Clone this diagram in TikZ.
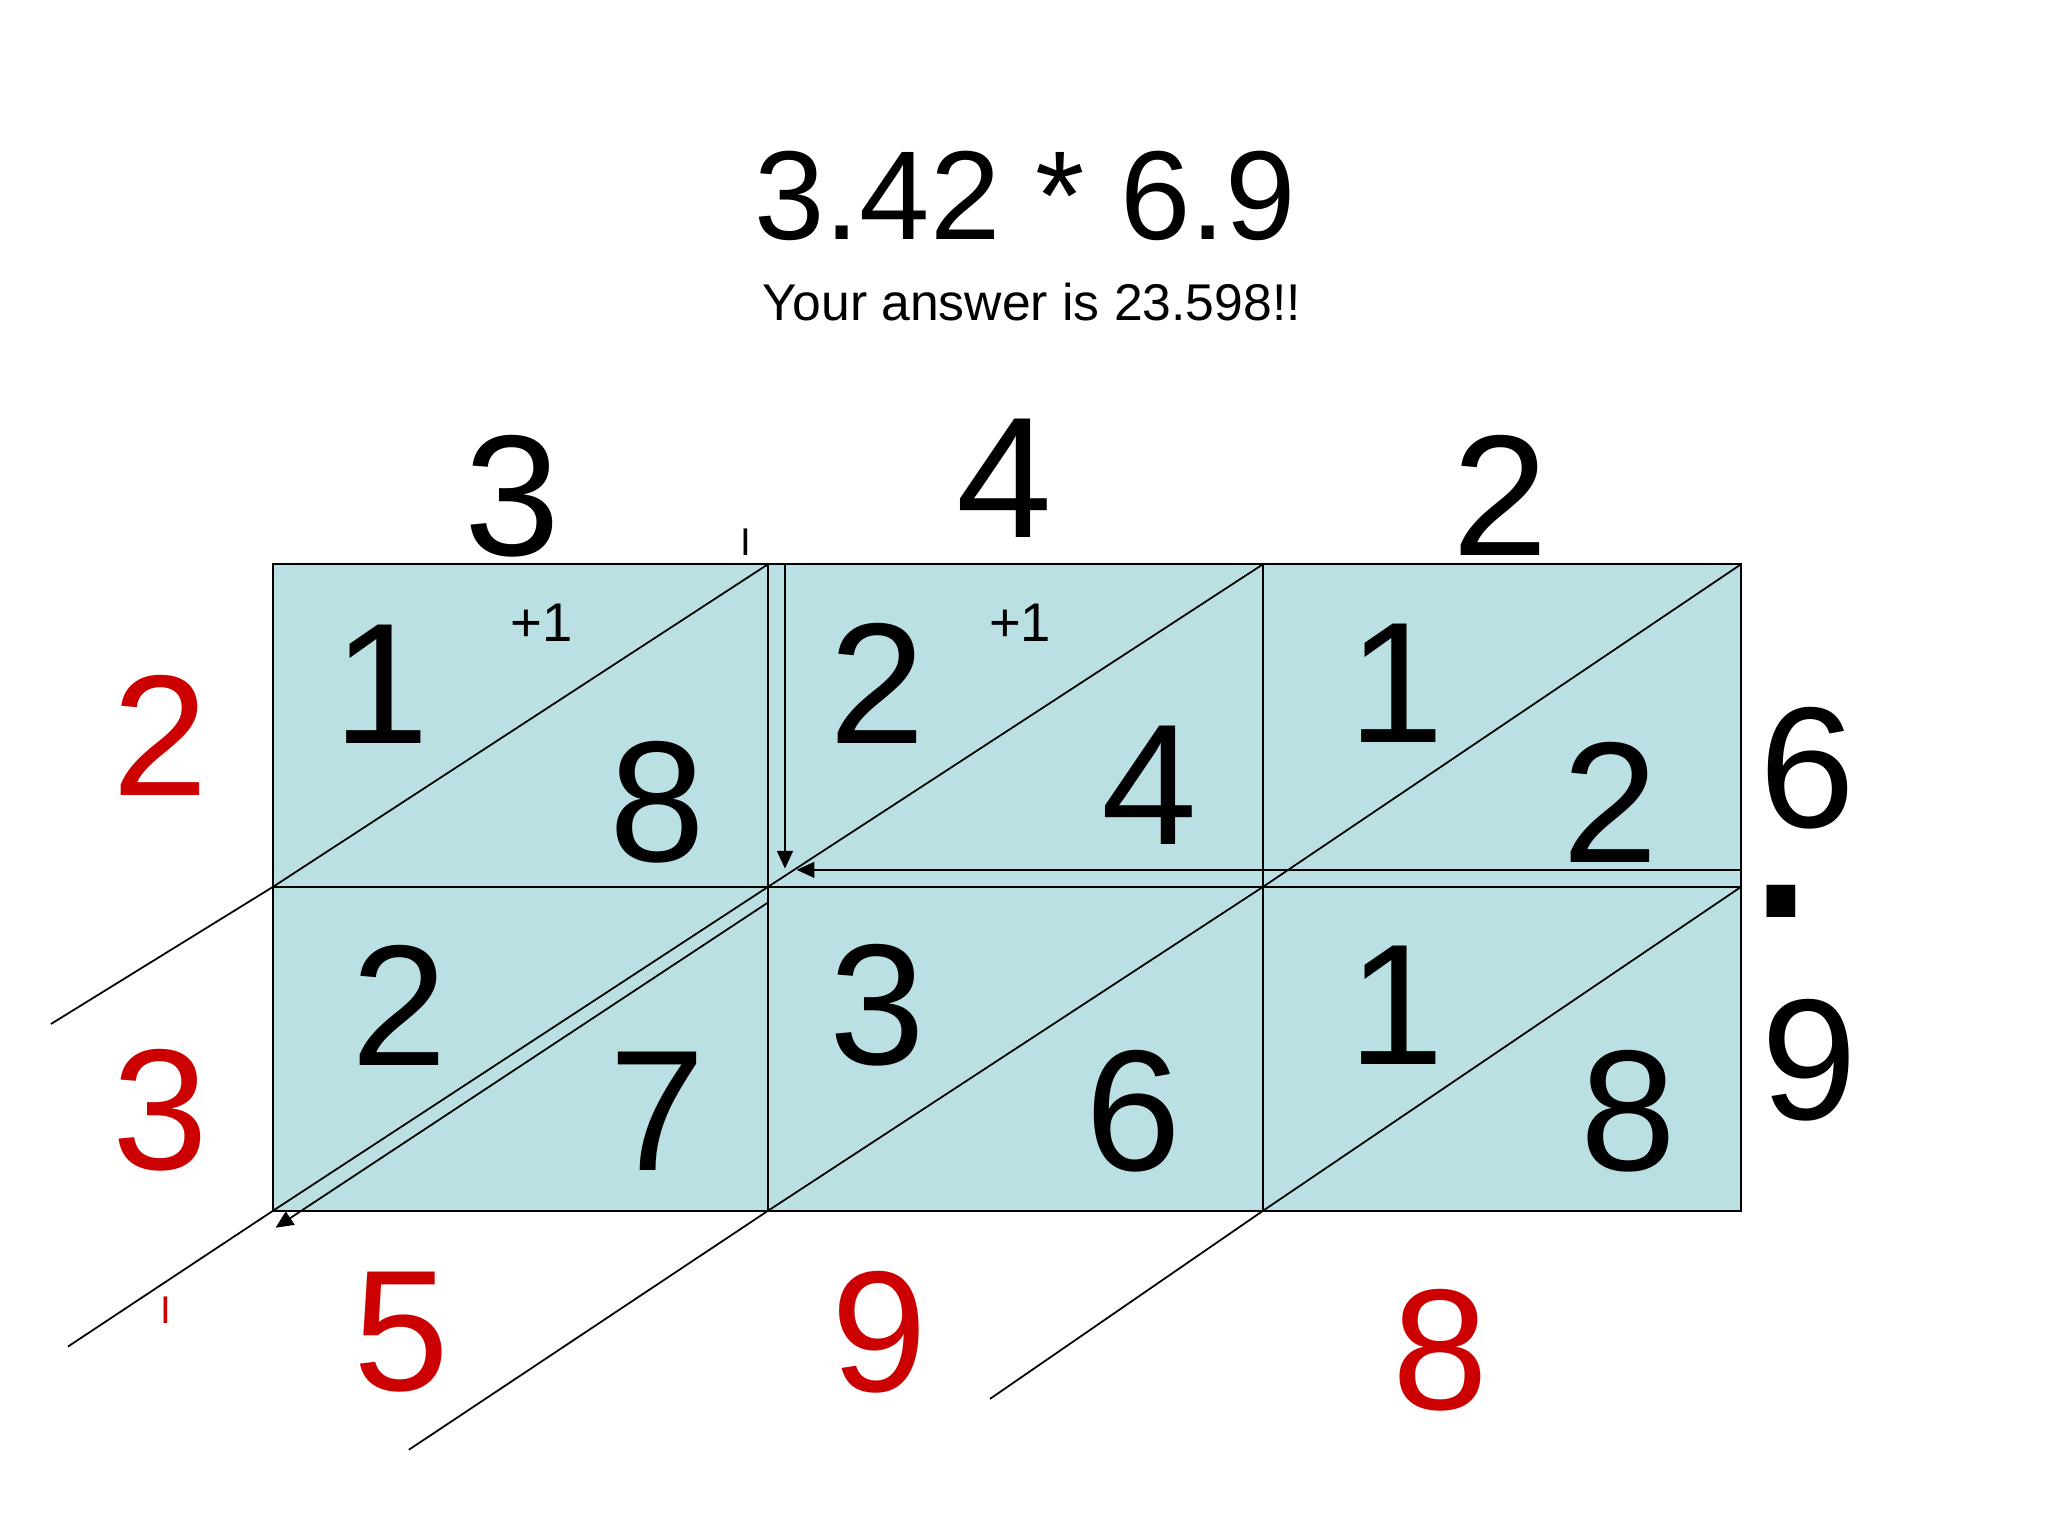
\documentclass[tikz,border=0pt]{standalone}
\usepackage{fontspec}
\setmainfont{Liberation Sans}
\usetikzlibrary{arrows.meta}
\definecolor{cellblue}{RGB}{187,224,227}
\definecolor{ansred}{RGB}{204,0,0}
\tikzset{
  big/.style={font=\fontsize{49}{49}\selectfont, inner sep=0pt},
  ans/.style={big, text=ansred},
  carry/.style={font=\fontsize{15.5}{15.5}\selectfont, inner sep=0pt},
  tickmark/.style={font=\fontsize{11}{11}\selectfont, inner sep=0pt},
  lattice/.style={line width=0.5pt},
  move/.style={line width=0.5pt, -{Triangle[length=5pt,width=4.5pt]}}
}
\begin{document}
\begin{tikzpicture}[x=0.013061cm, y=-0.013061cm]
  \useasboundingbox (0,0) rectangle (1568,1176);
  % grid corners
  \coordinate (p00) at (209,432);
  \coordinate (p01) at (588,432);
  \coordinate (p02) at (967,432);
  \coordinate (p03) at (1333,432);
  \coordinate (p10) at (209,679);
  \coordinate (p11) at (588,679);
  \coordinate (p12) at (967,679);
  \coordinate (p13) at (1333,679);
  \coordinate (p20) at (209,927);
  \coordinate (p21) at (588,927);
  \coordinate (p22) at (967,927);
  \coordinate (p23) at (1333,927);
  % free ends of the diagonals
  \coordinate (e1) at (39,784);
  \coordinate (e2) at (52,1031);
  \coordinate (e3) at (313,1110);
  \coordinate (e4) at (758,1071);
  % arrow ends
  \coordinate (v0) at (601,432);
  \coordinate (v1) at (601,665);
  \coordinate (h0) at (1333,666);
  \coordinate (h1) at (610,666);
  \coordinate (d0) at (588,691);
  \coordinate (d1) at (211,940);

  \fill[cellblue] (p00) rectangle (p23);
  \begin{scope}[lattice]
    \draw (p00) rectangle (p23);
    \draw (p10) to (p13);
    \draw (p01) to (p21);
    \draw (p02) to (p22);
    \draw (p01) to (p10) to (e1);
    \draw (p02) to (p11) to (p20) to (e2);
    \draw (p03) to (p12) to (p21) to (e3);
    \draw (p13) to (p22) to (e4);
  \end{scope}
  \begin{scope}[move]
    \draw (v0) to (v1);
    \draw (h0) to (h1);
    \draw (d0) to (d1);
  \end{scope}

  \node[font=\fontsize{36}{36}\selectfont, inner sep=0pt] (title) at (785,150) {3.42 * 6.9};
  \node[font=\fontsize{14.7}{14.7}\selectfont, inner sep=0pt] (answer) at (790,231) {Your answer is 23.598!!};

  \draw
    (392,380) node[big] (t1){3}
    (769,366) node[big] (t2){4}
    (1149,379) node[big] (t3){2}
    (1384,588) node[big] (s1){6}
    (1364,690) node[big, scale=1.75] (sdot){.}
    (1385,812) node[big] (s2){9};
  \draw
    (123,563) node[ans] (l1){2}
    (123,850) node[ans] (l2){3}
    (307,1020) node[ans] (b1){5}
    (673,1020) node[ans] (b2){9}
    (1103,1034) node[ans] (b3){8};

  \draw
    (292,524) node[big] (c11a){1}
    (503,614) node[big] (c11b){8}
    (672,523) node[big] (c12a){2}
    (880,601) node[big] (c12b){4}
    (1069,523) node[big] (c13a){1}
    (1233,614) node[big] (c13b){2}
    (306,770) node[big] (c21a){2}
    (503,851) node[big] (c21b){7}
    (672,770) node[big] (c22a){3}
    (868,851) node[big] (c22b){6}
    (1069,770) node[big] (c23a){1}
    (1247,851) node[big] (c23b){8};
  \draw
    (415,477) node[carry] (k1){+1}
    (781,477) node[carry] (k2){+1};
  \draw
    (571,415) node[tickmark] (m1){I}
    (127,1003) node[tickmark, text=ansred] (m2){I};
\end{tikzpicture}
\end{document}
